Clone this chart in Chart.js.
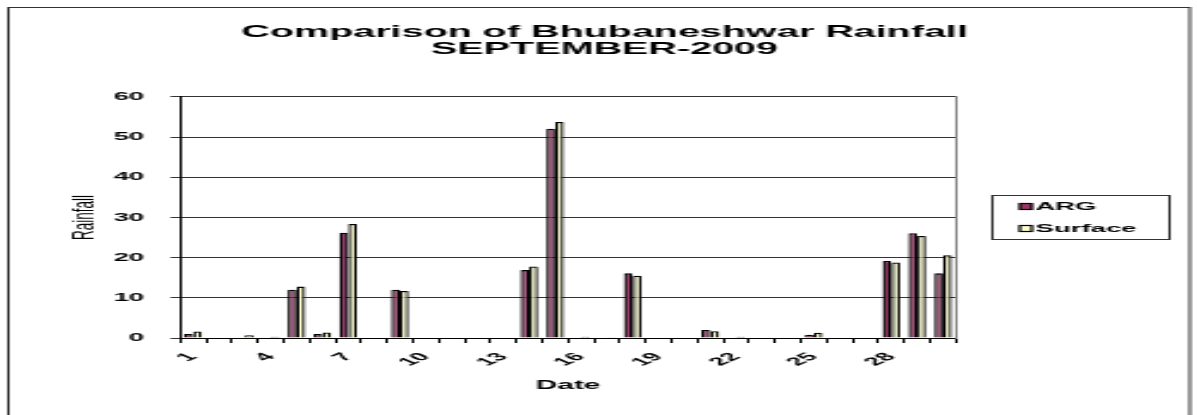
<!DOCTYPE html>
<html>
<head>
<meta charset="utf-8">
<title>Comparison of Bhubaneshwar Rainfall</title>
<script src="https://cdn.jsdelivr.net/npm/chart.js@4.4.1/dist/chart.umd.min.js"></script>
<style>
    html, body { margin: 0; padding: 0; background: #fff; }
</style>
</head>
<body>
<canvas id="rainChart" width="500" height="415" style="width:1197px;height:415px"></canvas>
<script>
// Daily rainfall, September 2009
const days = ['1', '2', '3', '4', '5', '6', '7', '8', '9', '10',
    '11', '12', '13', '14', '15', '16', '17', '18', '19', '20',
    '21', '22', '23', '24', '25', '26', '27', '28', '29', '30'];
const argRain = [1.0, 0, 0, 0, 12.0, 1.0, 26.2, 0, 12.0, 0,
    0, 0, 0, 16.9, 52.1, 0, 0, 16.1, 0, 0,
    2.0, 0, 0, 0, 0.8, 0, 0, 19.2, 26.1, 16.1];
const surfaceRain = [1.6, 0, 0.7, 0.3, 12.8, 1.4, 28.4, 0, 11.7, 0,
    0, 0, 0, 17.8, 53.8, 0.3, 0.2, 15.5, 0, 0,
    1.7, 0.3, 0, 0, 1.3, 0, 0.1, 18.8, 25.4, 20.6];
const tickDays = ['1', '4', '7', '10', '13', '16', '19', '22', '25', '28'];
const yTicks = [0, 10, 20, 30, 40, 50, 60];

const FONT = "'Liberation Sans', Arial, sans-serif";

// outer frame + legend box, the way the spreadsheet drew them
const frameAndLegend = {
    id: 'frameAndLegend',
    afterDraw(chart) {
        const ctx = chart.ctx;
        ctx.save();
        ctx.strokeStyle = '#333';
        ctx.lineWidth = 1;
        ctx.strokeRect(3.5, 7.5, 493.5, 420);

        ctx.strokeRect(414.5, 195.5, 74, 44);
        ctx.font = 'bold 11.5px ' + FONT;
        ctx.textBaseline = 'middle';
        ctx.textAlign = 'left';
        chart.data.datasets.forEach((ds, i) => {
            const y = 206.5 + i * 22;
            ctx.fillStyle = ds.backgroundColor;
            ctx.fillRect(426, y - 3, 5, 6);
            ctx.strokeStyle = '#000';
            ctx.lineWidth = 1.2;
            ctx.strokeRect(426, y - 3, 5, 6);
            ctx.fillStyle = '#000';
            ctx.fillText(ds.label, 432.5, y);
        });
        ctx.restore();
    }
};

new Chart(document.getElementById('rainChart'), {
    type: 'bar',
    data: {
        labels: days,
        datasets: [{
            label: 'ARG',
            data: argRain,
            backgroundColor: '#993366',
            borderColor: '#000',
            borderWidth: 1.3,
            categoryPercentage: 0.68,
            barPercentage: 1.0
        }, {
            label: 'Surface',
            data: surfaceRain,
            backgroundColor: '#FFFFCC',
            borderColor: '#000',
            borderWidth: 1.3,
            categoryPercentage: 0.68,
            barPercentage: 1.0
        }]
    },
    options: {
        responsive: false,
        devicePixelRatio: 1,
        animation: false,
        layout: { padding: { left: 5, top: 0, right: 0, bottom: 0 } },
        plugins: {
            legend: { display: false },
            tooltip: { enabled: false },
            title: {
                display: true,
                text: ['Comparison of Bhubaneshwar Rainfall', 'SEPTEMBER-2009'],
                color: '#000',
                font: { family: FONT, size: 16.5, weight: 'bold', lineHeight: 1.03 },
                padding: { top: 23.5, bottom: 39.5 }
            }
        },
        scales: {
            x: {
                grid: {
                    drawOnChartArea: false,
                    drawTicks: true,
                    tickLength: 5,
                    color: '#000',
                    offset: true
                },
                border: { color: '#000', width: 1 },
                ticks: {
                    autoSkip: false,
                    minRotation: 45,
                    maxRotation: 45,
                    padding: 7,
                    color: '#000',
                    font: { family: FONT, size: 11.5, weight: 'bold' },
                    callback: function (value) {
                        const lbl = this.getLabelForValue(value);
                        return tickDays.includes(lbl) ? lbl : '';
                    }
                },
                title: {
                    display: true,
                    text: 'Date',
                    color: '#000',
                    font: { family: FONT, size: 12.5, weight: 'bold' },
                    padding: { top: 0, bottom: 22 }
                },
                afterFit: s => { s.height = 77; }
            },
            y: {
                min: yTicks[0],
                max: yTicks[yTicks.length - 1],
                grid: { color: '#333', tickLength: 4, drawTicks: true },
                border: { color: '#000', width: 1 },
                ticks: {
                    stepSize: 10,
                    padding: 11,
                    color: '#000',
                    font: { family: FONT, size: 11.5, weight: 'bold' }
                },
                title: {
                    display: true,
                    text: 'Rainfall',
                    color: '#000',
                    font: { family: FONT, size: 13.5 },
                    padding: { top: 22, bottom: 0 }
                },
                afterFit: s => { s.width = 70.2; }
            },
            y2: {
                position: 'right',
                min: yTicks[0],
                max: yTicks[yTicks.length - 1],
                grid: { drawOnChartArea: false, drawTicks: false },
                border: { color: '#888', width: 1 },
                ticks: { display: false },
                afterFit: s => { s.width = 100.7; }
            }
        }
    },
    plugins: [frameAndLegend]
});
</script>
</body>
</html>
